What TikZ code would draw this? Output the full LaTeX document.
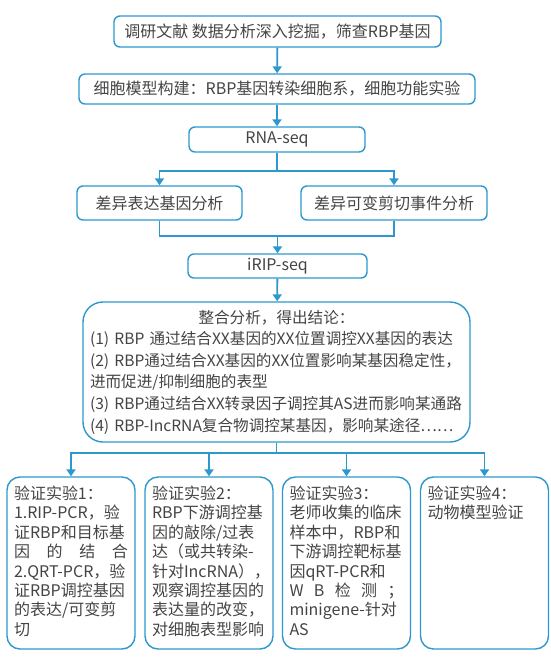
\documentclass[tikz,border=0pt]{standalone}
\usepackage{fontspec}
\setmainfont{Noto Sans CJK SC}
\usepackage{tikz}
\usetikzlibrary{calc,arrows.meta}
\definecolor{flowblue}{RGB}{45,152,205}
\definecolor{flowtext}{RGB}{68,68,68}
\newcommand{\spreadline}[1]{\hbox to \linewidth{#1}}
\newcommand{\testbody}[1]{\parbox[c][154pt][t]{114pt}{\fontsize{16}{19.4}\selectfont #1}}

\begin{document}
\begin{tikzpicture}[x=1pt,y=-1pt,
		every node/.style={draw=flowblue,line width=1.4pt,text=flowtext,font=\fontsize{16}{21.6}\selectfont},
		box/.style={rounded corners=6pt},
		test/.style={rounded corners=13pt,inner xsep=7pt,inner ysep=9pt,minimum width=128pt},
		link/.style={draw=flowblue,line width=1.8pt},
		arr/.style={link,-{Triangle[width=9pt,length=7pt]}}]
	\useasboundingbox (0,0) rectangle (551,659);
	%top chain placed by hand
	\node[box,minimum width=327pt,minimum height=31pt] (lit) at (277.5,31.5){调研文献 数据分析深入挖掘，筛查RBP基因};
	\node[box,minimum width=396pt,minimum height=30pt] (cell) at (277,89){细胞模型构建：RBP基因转染细胞系，细胞功能实验};
	\node[box,minimum width=176pt,minimum height=25pt] (rna) at (277,139.5){RNA-seq};
	\node[box,minimum width=165pt,minimum height=34pt] (deg) at (159.5,203){差异表达基因分析};
	\node[box,minimum width=186pt,minimum height=34pt] (das) at (394,203){差异可变剪切事件分析};
	\node[box,minimum width=179pt,minimum height=24pt] (irip) at (277.5,266){iRIP-seq};
	%% conclusions box
	\node[rounded corners=20pt,minimum width=387pt,minimum height=140pt,inner xsep=7pt,text width=373pt,align=left,
		font=\fontsize{15.6}{21.6}\selectfont] (concl) at (276.5,372){%
		\makebox[\linewidth]{整合分析，得出结论：}\\
		(1) RBP 通过结合XX基因的XX位置调控XX基因的表达\\
		(2) RBP通过结合XX基因的XX位置影响某基因稳定性，\\
		进而促进/抑制细胞的表型\\
		(3) RBP通过结合XX转录因子调控其AS进而影响某通路\\
		(4) RBP-IncRNA复合物调控某基因，影响某途径……\\[-3pt]};
	%% validation boxes
	\node[test] (t1) at (71,563){\testbody{验证实验1：\\
		1.RIP-PCR，验\\
		证RBP和目标基\\
		\spreadline{因\hfill 的\hfill 结\hfill 合}
		2.QRT-PCR，验\\
		证RBP调控基因\\
		的表达/可变剪\\
		切}};
	\node[test] (t2) at (209,563){\testbody{验证实验2：\\
		RBP下游调控基\\
		因的敲除/过表\\
		达（或共转染-\\
		针对IncRNA），\\
		观察调控基因的\\
		表达量的改变，\\
		对细胞表型影响}};
	\node[test] (t3) at (346.5,563){\testbody{验证实验3：\\
		老师收集的临床\\
		样本中，RBP和\\
		下游调控靶标基\\
		因qRT-PCR和\\
		\spreadline{W\hfill B\hfill 检\hfill 测\hfill ；}
		minigene-针对\\
		AS}};
	\node[test] (t4) at (484.5,563){\testbody{验证实验4：\\
		动物模型验证}};
	%% connectors
	\draw[arr] (lit)--(cell);
	\draw[arr] (cell)--(rna);
	\coordinate (split) at (277,171);
	\draw[link] (rna)--(split);
	\draw[arr] (split)-|(deg);
	\draw[arr] (split)-|(das);
	\coordinate (merge) at (277.5,236);
	\draw[link] (deg)|-(merge)-|(das);
	\draw[arr] (merge)--(irip);
	\draw[arr] (irip)--(concl);
	\coordinate (fan) at (276.5,453);
	\draw[link] (concl)--(fan);
	\foreach \t in {t1,t2,t3,t4}{
		\draw[arr] (fan)-|(\t);
	}
\end{tikzpicture}
\end{document}
